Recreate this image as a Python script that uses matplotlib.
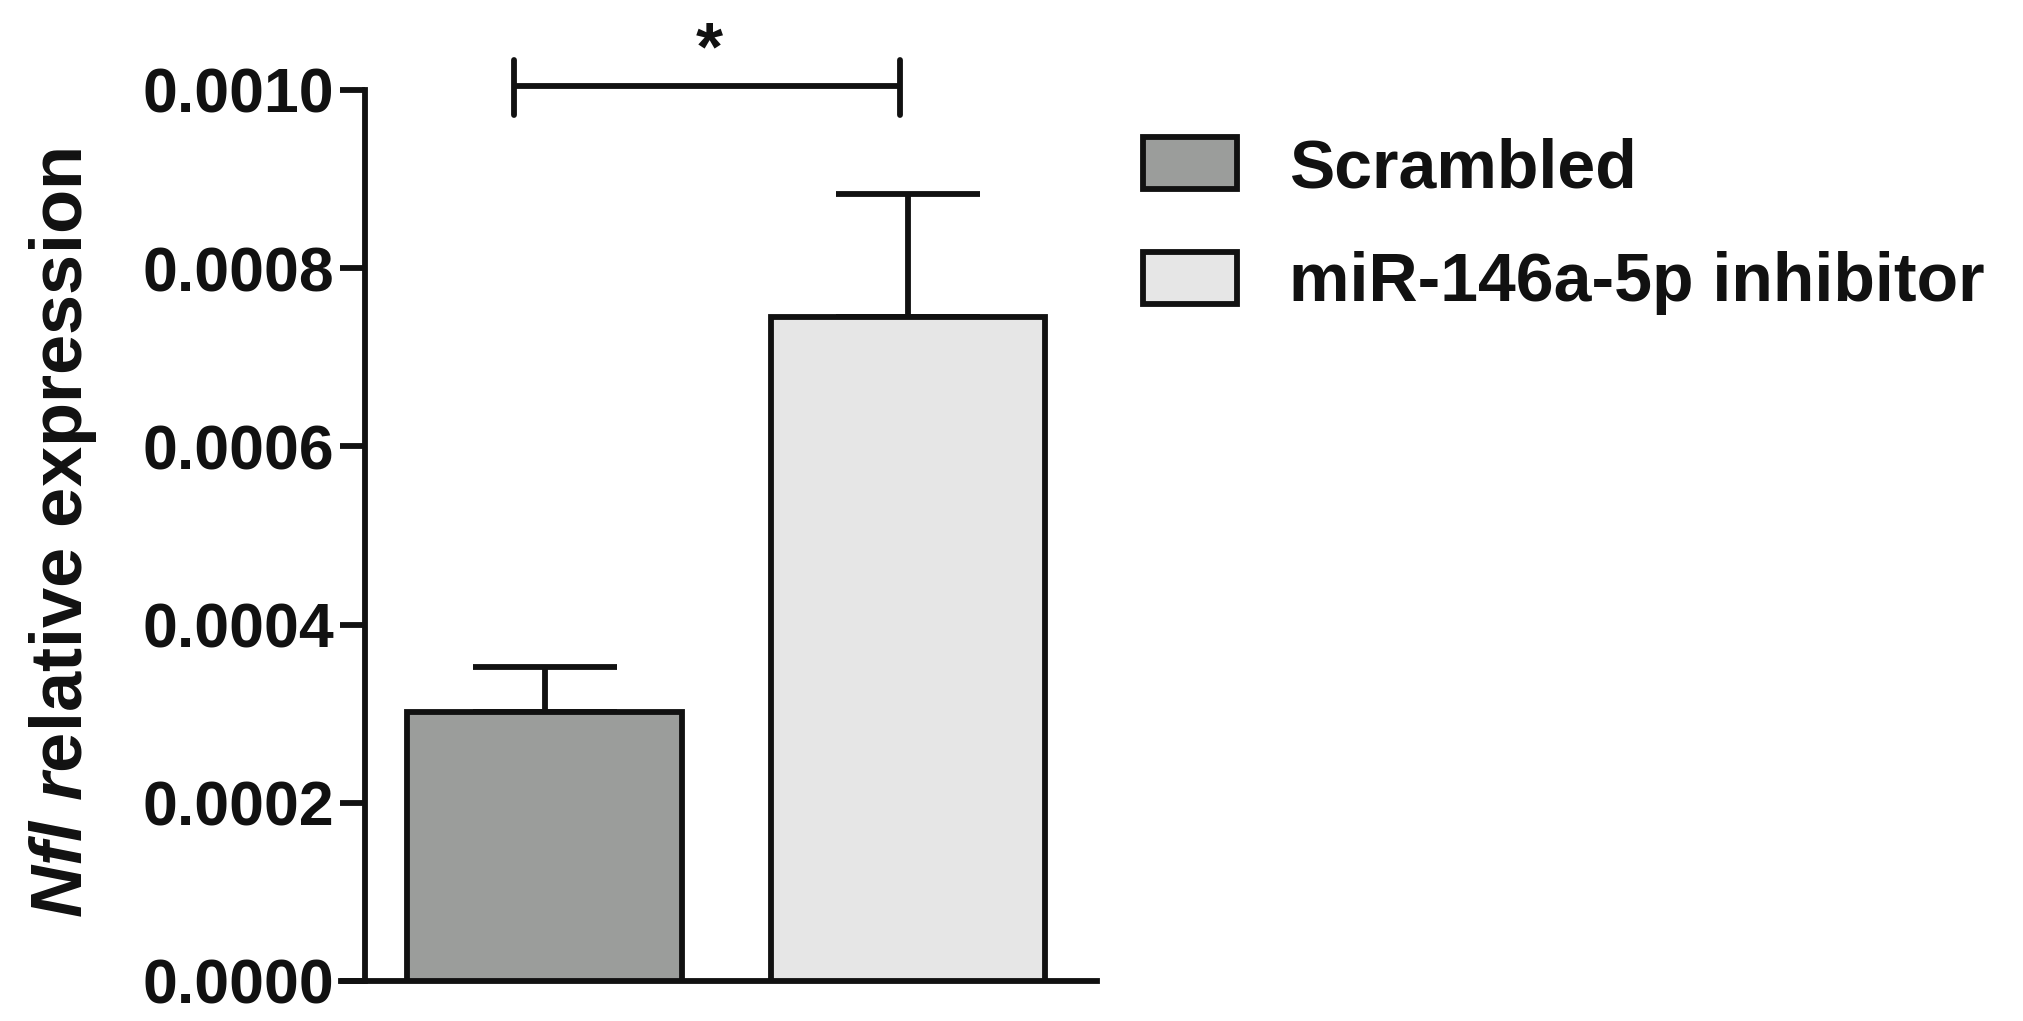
import matplotlib
matplotlib.use('Agg')
import matplotlib.pyplot as plt
import numpy as np

# data
groups = ['Scrambled', 'miR-146a-5p inhibitor']
means = [0.000302, 0.000745]
sems = [0.000050, 0.000138]
colors = ['#9b9d9b', '#e6e6e6']

plt.rcParams['font.family'] = ['Liberation Sans', 'DejaVu Sans']
plt.rcParams['font.weight'] = 'bold'
plt.rcParams['mathtext.fontset'] = 'custom'
plt.rcParams['mathtext.it'] = 'Liberation Sans:italic:bold'
plt.rcParams['mathtext.rm'] = 'Liberation Sans:bold'

ink = '#111111'
lw = 4.2

fig = plt.figure(figsize=(20.24, 10.21), dpi=100)
ax = fig.add_axes([0.1685, 0.0392, 0.3735, 0.8727])

x = np.arange(len(groups))
bars = ax.bar(x, means, width=0.755, color=colors, edgecolor=ink,
              linewidth=lw, zorder=3, label=groups)
ax.errorbar(x, means, yerr=[np.zeros(len(sems)), sems], fmt='none',
            ecolor=ink, elinewidth=lw, capsize=52, capthick=lw, zorder=2)

ax.set_xlim(-0.560, 1.520)
ax.set_ylim(0, 0.001)
ax.set_yticks(np.arange(0, 0.00101, 0.0002))
ax.yaxis.set_major_formatter(matplotlib.ticker.FormatStrFormatter('%.4f'))
ax.set_xticks([])

for s in ['top', 'right']:
    ax.spines[s].set_visible(False)
ax.spines['left'].set_position(('data', -0.494))
ax.spines['left'].set_linewidth(lw)
ax.spines['bottom'].set_linewidth(lw)
ax.spines['left'].set_color(ink)
ax.spines['bottom'].set_color(ink)
ax.tick_params(axis='y', length=18, width=lw, color=ink, pad=4,
               labelsize=45, labelcolor=ink)
for t in ax.get_yticklabels():
    t.set_fontweight('bold')

# significance bracket
sig_x = [-0.084, 0.978]
sig_y = 0.0010045
ax.plot(sig_x, [sig_y, sig_y], color=ink, lw=lw, clip_on=False,
        solid_capstyle='butt')
for sx in sig_x:
    ax.plot([sx, sx], [0.000972, 0.001034], color=ink, lw=lw,
            clip_on=False, solid_capstyle='round')
ax.text(0.454, 0.0010435, '*', ha='center', va='center', fontsize=50,
        fontweight='bold', color=ink, clip_on=False)

fig.text(0.031, 1 - 533 / 1021, r'$\it{Nfl\ r}$elative expression',
         rotation=90, ha='center', va='center', fontsize=52,
         fontweight='bold', color=ink)

leg = ax.legend(handles=list(bars), labels=groups, loc='upper left',
                bbox_to_anchor=(1143 / 2024, 1 - 137 / 1021),
                bbox_transform=fig.transFigure, frameon=False,
                fontsize=49, handlelength=1.38, handleheight=0.8,
                handletextpad=0.76, labelspacing=0.74, borderpad=0,
                borderaxespad=0)
for txt in leg.get_texts():
    txt.set_color(ink)
    txt.set_fontweight('bold')

fig.savefig('out.png', dpi=100)
